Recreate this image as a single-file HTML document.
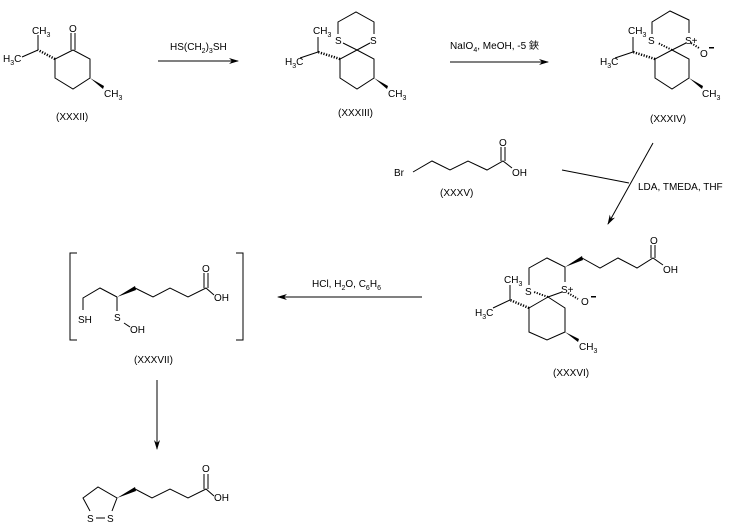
<!DOCTYPE html>
<html><head><meta charset="utf-8"><style>
html,body{margin:0;padding:0;background:#fff;}
svg{display:block;font-family:"Liberation Sans","Noto Sans CJK SC",sans-serif;font-size:10px;}
</style></head><body>
<svg width="730" height="530" viewBox="0 0 730 530" xmlns="http://www.w3.org/2000/svg">
<defs>
<marker id="ah" markerWidth="10" markerHeight="6" refX="9" refY="3" orient="auto" markerUnits="userSpaceOnUse">
<path d="M0,0 L10,3 L0,6 L3,3 Z" fill="#000"/></marker>
</defs>
<g stroke="#000" stroke-width="1" fill="none">
<!-- XXXII -->
<polyline points="73,50 90,59 90,78 73,89 55,78 55,59 73,50"/>
<line x1="71" y1="50" x2="71" y2="33"/><line x1="75" y1="50" x2="75" y2="33"/>
<line x1="38" y1="50" x2="38" y2="35"/><line x1="38" y1="50" x2="22" y2="57"/>
<!-- XXXIII -->
<polyline points="357,50 374,59 374,78 357,89 340,78 340,59 357,50"/>
<line x1="357" y1="50" x2="343" y2="43"/><line x1="357" y1="50" x2="370" y2="43"/>
<polyline points="338,34 338,22 356,12 374,22 374,34"/>
<line x1="318" y1="52" x2="318" y2="37"/><line x1="318" y1="52" x2="300" y2="58"/>
<!-- XXXIV -->
<polyline points="672,50 689,59 689,78 672,89 655,78 655,59 672,50"/>
<line x1="672" y1="50" x2="686" y2="43"/>
<polyline points="652,34 652,22 670,11 689,20 689,33"/>
<line x1="633" y1="52" x2="633" y2="37"/><line x1="633" y1="52" x2="615" y2="58"/>
<!-- XXXV -->
<polyline points="413,172 432,161 450,170 468,161 487,170 503,161 512,168"/>
<line x1="501" y1="161" x2="501" y2="147"/><line x1="505" y1="161" x2="505" y2="147"/>
<!-- XXXVI -->
<polyline points="548,297 565,308 565,332 547,340 529,332 529,308 548,297"/>
<line x1="548" y1="297" x2="562" y2="292"/>
<polyline points="529,285 529,268 547,258 565,267 565,282"/>
<polyline points="582,258 600,268 618,258 637,268 653,258 663,265"/>
<line x1="651" y1="258" x2="651" y2="245"/><line x1="655" y1="258" x2="655" y2="245"/>
<line x1="510" y1="300" x2="510" y2="285"/><line x1="510" y1="300" x2="493" y2="308"/>
<!-- XXXVII -->
<polyline points="77,253 70,253 70,340 77,340"/>
<polyline points="236,253 243,253 243,340 236,340"/>
<polyline points="83,310 83,298 100,288 117,297"/>
<polyline points="135,288 153,297 170,288 188,297 206,288 214,295"/>
<line x1="204" y1="288" x2="204" y2="273"/><line x1="208" y1="288" x2="208" y2="273"/>
<line x1="117" y1="297" x2="117" y2="311"/><line x1="124" y1="323" x2="130" y2="327"/>
<!-- lipoic -->
<polyline points="90,511 83,498 98,487 117,498 112,511"/>
<line x1="96" y1="518" x2="105" y2="518"/>
<polyline points="135,489 152,498 170,489 188,498 206,489 214,496"/>
<line x1="204" y1="489" x2="204" y2="474"/><line x1="208" y1="489" x2="208" y2="474"/>
<!-- arrows -->
<line x1="158" y1="61" x2="238" y2="61" marker-end="url(#ah)"/>
<line x1="450" y1="62" x2="548" y2="62" marker-end="url(#ah)"/>
<line x1="562" y1="170" x2="629" y2="183"/>
<line x1="653" y1="143" x2="608" y2="224" marker-end="url(#ah)"/>
<line x1="422" y1="297" x2="278" y2="297" marker-end="url(#ah)"/>
<line x1="157" y1="380" x2="157" y2="449" marker-end="url(#ah)"/>
</g>
<g stroke="#000" stroke-width="1">
<line x1="55" y1="59" x2="38" y2="50" stroke-dasharray="1.2,1.5" stroke-width="2.5"/>
<line x1="340" y1="59" x2="318" y2="52" stroke-dasharray="1.2,1.5" stroke-width="2.5"/>
<line x1="655" y1="59" x2="633" y2="52" stroke-dasharray="1.2,1.5" stroke-width="2.5"/>
<line x1="672" y1="50" x2="658" y2="43" stroke-dasharray="1.2,1.5" stroke-width="2"/>
<line x1="691" y1="43" x2="699" y2="48" stroke-dasharray="1.2,1.5" stroke-width="2"/>
<line x1="529" y1="308" x2="510" y2="300" stroke-dasharray="1.2,1.5" stroke-width="2.5"/>
<line x1="548" y1="297" x2="534" y2="292" stroke-dasharray="1.2,1.5" stroke-width="2"/>
<line x1="568" y1="293" x2="578" y2="299" stroke-dasharray="1.2,1.5" stroke-width="2"/>
</g>
<g fill="#000">
<polygon points="90,78 104,86 103,89"/>
<polygon points="374,78 388,86 387,89"/>
<polygon points="689,78 703,86 702,89"/>
<polygon points="565,332 579,339 578,342"/>
<polygon points="565,267 582,256 583,260"/>
<polygon points="117,297 135,286 136,290"/>
<polygon points="117,498 135,487 136,491"/>
</g>
<g fill="#000">
<text x="69" y="32">O</text>
<text x="32" y="34">CH<tspan font-size="7" dy="3">3</tspan></text>
<text x="3" y="62">H<tspan font-size="7" dy="3">3</tspan><tspan dy="-3">C</tspan></text>
<text x="104" y="97">CH<tspan font-size="7" dy="3">3</tspan></text>
<text x="56" y="120">(XXXII)</text>
<text x="170" y="50">HS(CH<tspan font-size="7" dy="3">2</tspan><tspan dy="-3">)</tspan><tspan font-size="7" dy="3">3</tspan><tspan dy="-3">SH</tspan></text>
<text x="313" y="34">CH<tspan font-size="7" dy="3">3</tspan></text>
<text x="335" y="44">S</text><text x="370" y="44">S</text>
<text x="285" y="65">H<tspan font-size="7" dy="3">3</tspan><tspan dy="-3">C</tspan></text>
<text x="388" y="97">CH<tspan font-size="7" dy="3">3</tspan></text>
<text x="338" y="116">(XXXIII)</text>
<text x="450" y="49">NaIO<tspan font-size="7" dy="3">4</tspan><tspan dy="-3">, MeOH, -5 鋏</tspan></text>
<text x="628" y="34">CH<tspan font-size="7" dy="3">3</tspan></text>
<text x="648" y="44">S</text><text x="685" y="44">S+</text>
<text x="700" y="57">O</text><rect x="709" y="47" width="5" height="1.5"/>
<text x="600" y="65">H<tspan font-size="7" dy="3">3</tspan><tspan dy="-3">C</tspan></text>
<text x="702" y="97">CH<tspan font-size="7" dy="3">3</tspan></text>
<text x="650" y="122">(XXXIV)</text>
<text x="499" y="146">O</text>
<text x="394" y="176">Br</text>
<text x="512" y="176">OH</text>
<text x="440" y="196">(XXXV)</text>
<text x="638" y="190">LDA, TMEDA, THF</text>
<text x="650" y="244">O</text>
<text x="663" y="273">OH</text>
<text x="504" y="283">CH<tspan font-size="7" dy="3">3</tspan></text>
<text x="525" y="295">S</text><text x="561" y="293">S+</text>
<text x="581" y="305">O</text><rect x="591" y="296" width="5" height="1.5"/>
<text x="475" y="316">H<tspan font-size="7" dy="3">3</tspan><tspan dy="-3">C</tspan></text>
<text x="579" y="350">CH<tspan font-size="7" dy="3">3</tspan></text>
<text x="553" y="376">(XXXVI)</text>
<text x="312" y="287">HCl, H<tspan font-size="7" dy="3">2</tspan><tspan dy="-3">O, C</tspan><tspan font-size="7" dy="3">6</tspan><tspan dy="-3">H</tspan><tspan font-size="7" dy="3">6</tspan></text>
<text x="202" y="272">O</text>
<text x="214" y="301">OH</text>
<text x="78" y="323">SH</text>
<text x="114" y="321">S</text>
<text x="130" y="333">OH</text>
<text x="134" y="363">(XXXVII)</text>
<text x="202" y="472">O</text>
<text x="214" y="501">OH</text>
<text x="87" y="522">S</text><text x="107" y="522">S</text>
</g>
</svg>
</body></html>
